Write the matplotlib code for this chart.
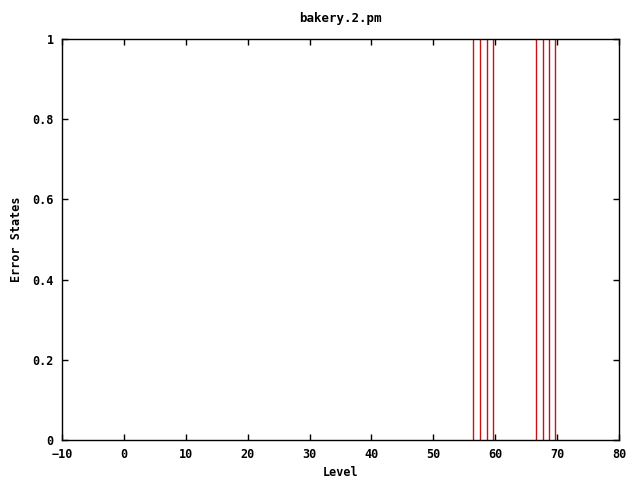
import matplotlib
matplotlib.use("Agg")
import matplotlib.pyplot as plt

levels = [56.4, 57.6, 58.6, 59.6, 66.6, 67.7, 68.7, 69.6]
error_states = [1, 1, 1, 1, 1, 1, 1, 1]
xticks = [-10, 0, 10, 20, 30, 40, 50, 60, 70, 80]
yticks = [0, 0.2, 0.4, 0.6, 0.8, 1]
ylabels = ["0", "0.2", "0.4", "0.6", "0.8", "1"]

plt.rcParams['font.family'] = ['DejaVu Sans Mono']
plt.rcParams['font.weight'] = 'bold'
plt.rcParams['font.size'] = 8.5

fig = plt.figure(figsize=(6.4, 4.8), dpi=100)
ax = fig.add_axes([62/640, 1-440/480, (619-62)/640, (440-39)/480])
ax.vlines(levels, 0, error_states, colors='#cc1111', linewidth=1)
ax.set_xlim(-10, 80)
ax.set_ylim(0, 1)
ax.set_xticks(xticks)
ax.set_yticks(yticks)
ax.set_yticklabels(ylabels)
ax.tick_params(direction='in', top=True, right=True, length=4, width=1, pad=6)
for s in ax.spines.values():
    s.set_linewidth(1)
ax.set_xlabel("Level", fontweight='bold', labelpad=3)
ax.set_ylabel("Error States", fontweight='bold', labelpad=7)
ax.set_title("bakery.2.pm", fontweight='bold', fontsize=9, pad=12)
fig.savefig("out.png", dpi=100)
